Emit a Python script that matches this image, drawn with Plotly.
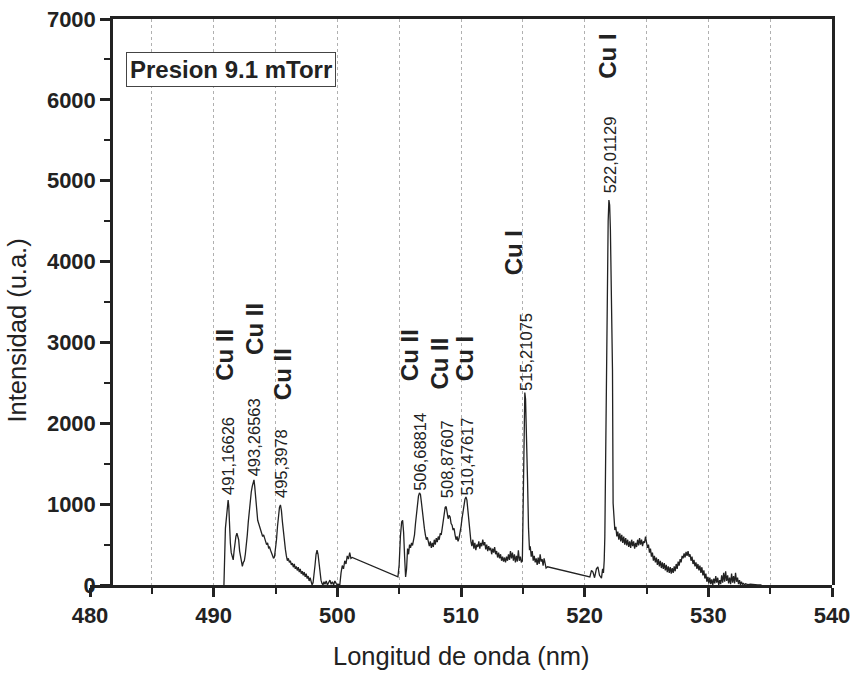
import plotly.graph_objects as go

# ---------------- data ----------------
# spectrum segments: (wavelength nm, intensity u.a.)
SEG_490_501 = [
    (490.80, 0), (490.83, 0), (490.95, 700), (491.05, 900), (491.12, 1000), (491.17, 1050),
    (491.22, 980), (491.28, 700), (491.35, 520), (491.42, 400), (491.50, 330), (491.58, 310),
    (491.65, 420), (491.72, 560), (491.80, 600), (491.88, 640), (491.95, 600), (492.02, 560),
    (492.10, 420), (492.18, 330), (492.25, 260), (492.32, 230), (492.40, 280), (492.48, 300),
    (492.56, 380), (492.64, 470), (492.72, 620), (492.80, 780), (492.88, 920), (492.96, 1060),
    (493.04, 1150), (493.12, 1220), (493.20, 1280), (493.26, 1300), (493.32, 1220), (493.40, 1050),
    (493.48, 880), (493.56, 800), (493.64, 760), (493.72, 720), (493.80, 690), (493.88, 640),
    (493.96, 600), (494.04, 620), (494.12, 560), (494.20, 540), (494.28, 500), (494.36, 520),
    (494.44, 460), (494.52, 470), (494.60, 430), (494.68, 400), (494.76, 380), (494.84, 330),
    (494.92, 350), (495.00, 430), (495.08, 560), (495.16, 720), (495.24, 880), (495.32, 960),
    (495.40, 990), (495.48, 920), (495.56, 780), (495.64, 640), (495.72, 540), (495.80, 440),
    (495.88, 360), (495.96, 300), (496.04, 330), (496.12, 280), (496.20, 300), (496.28, 250),
    (496.36, 270), (496.44, 220), (496.52, 260), (496.60, 200), (496.68, 230), (496.76, 180),
    (496.84, 220), (496.92, 160), (497.00, 200), (497.08, 140), (497.16, 170), (497.24, 120),
    (497.32, 160), (497.40, 100), (497.48, 140), (497.56, 80), (497.64, 110), (497.72, 50),
    (497.80, 90), (497.88, 20), (497.96, 0), (498.04, 30), (498.12, 120), (498.20, 250),
    (498.28, 380), (498.36, 430), (498.44, 380), (498.52, 260), (498.60, 140), (498.68, 60),
    (498.76, 20), (498.84, 0), (498.92, 40), (499.00, 10), (499.10, 50), (499.20, 0),
    (499.30, 30), (499.40, 60), (499.50, 10), (499.60, 40), (499.70, 0), (499.80, 50),
    (499.90, 20), (500.00, 0), (500.10, 10), (500.20, 0), (500.30, 150), (500.40, 240),
    (500.50, 200), (500.60, 300), (500.70, 260), (500.80, 360), (500.90, 320), (501.00, 400),
    (501.10, 330), (501.20, 340),
]

SEG_505_517 = [
    (504.90, 100), (505.00, 250), (505.10, 600), (505.20, 780), (505.28, 800), (505.36, 650),
    (505.44, 350), (505.52, 100), (505.60, 200), (505.68, 450), (505.76, 380), (505.84, 500),
    (505.92, 460), (506.00, 520), (506.08, 490), (506.16, 560), (506.24, 620), (506.32, 760),
    (506.40, 900), (506.48, 1020), (506.56, 1100), (506.64, 1140), (506.72, 1120), (506.80, 1020),
    (506.88, 880), (506.96, 760), (507.04, 700), (507.12, 620), (507.20, 560), (507.28, 590),
    (507.36, 510), (507.44, 480), (507.52, 540), (507.60, 460), (507.68, 520), (507.76, 470),
    (507.84, 560), (507.92, 500), (508.00, 580), (508.08, 530), (508.16, 600), (508.24, 560),
    (508.32, 640), (508.40, 620), (508.48, 700), (508.56, 780), (508.64, 880), (508.72, 960),
    (508.80, 970), (508.88, 900), (508.96, 820), (509.04, 860), (509.12, 840), (509.20, 760),
    (509.28, 740), (509.36, 680), (509.44, 700), (509.52, 620), (509.60, 560), (509.68, 600),
    (509.76, 540), (509.84, 580), (509.92, 640), (510.00, 720), (510.08, 820), (510.16, 920),
    (510.24, 1000), (510.32, 1060), (510.40, 1090), (510.48, 1050), (510.56, 920), (510.64, 760),
    (510.72, 620), (510.80, 540), (510.88, 480), (510.96, 560), (511.04, 450), (511.12, 520),
    (511.20, 430), (511.28, 500), (511.36, 470), (511.44, 540), (511.52, 450), (511.60, 520),
    (511.68, 480), (511.76, 560), (511.84, 490), (511.92, 530), (512.00, 440), (512.08, 500),
    (512.16, 420), (512.24, 480), (512.32, 430), (512.40, 460), (512.48, 380), (512.56, 450),
    (512.64, 400), (512.72, 470), (512.80, 380), (512.88, 420), (512.96, 340), (513.04, 400),
    (513.12, 330), (513.20, 380), (513.28, 300), (513.36, 350), (513.44, 290), (513.52, 340),
    (513.60, 280), (513.68, 350), (513.76, 300), (513.84, 380), (513.92, 310), (514.00, 420),
    (514.08, 330), (514.16, 400), (514.24, 300), (514.32, 380), (514.40, 280), (514.48, 360),
    (514.56, 290), (514.64, 430), (514.72, 300), (514.80, 350), (514.88, 280), (514.96, 300),
    (515.00, 700), (515.04, 1200), (515.10, 2000), (515.16, 2380), (515.22, 2300), (515.30, 1900),
    (515.38, 1300), (515.46, 700), (515.54, 430), (515.60, 480), (515.68, 350), (515.76, 420),
    (515.84, 300), (515.92, 360), (516.00, 280), (516.08, 330), (516.16, 250), (516.24, 340),
    (516.32, 260), (516.40, 380), (516.48, 290), (516.56, 320), (516.64, 240), (516.72, 330),
    (516.80, 260), (516.88, 210), (517.00, 225),
]

SEG_520_535 = [
    (520.42, 100), (520.55, 180), (520.67, 160), (520.80, 90), (520.95, 200), (521.07, 225),
    (521.20, 120), (521.36, 85), (521.45, 200), (521.52, 150), (521.58, 300), (521.63, 590),
    (521.68, 1300), (521.72, 2040), (521.77, 3360), (521.84, 4100), (521.90, 4500), (521.96, 4760),
    (522.02, 4700), (522.08, 4400), (522.14, 3900), (522.20, 3300), (522.25, 2660), (522.30, 1010),
    (522.36, 800), (522.44, 680), (522.52, 720), (522.60, 600), (522.68, 660), (522.76, 560),
    (522.84, 640), (522.92, 540), (523.00, 620), (523.08, 520), (523.16, 600), (523.24, 500),
    (523.32, 580), (523.40, 490), (523.48, 560), (523.56, 470), (523.64, 540), (523.72, 460),
    (523.80, 560), (523.88, 480), (523.96, 540), (524.04, 450), (524.12, 520), (524.20, 470),
    (524.28, 560), (524.36, 490), (524.44, 580), (524.52, 500), (524.60, 560), (524.68, 480),
    (524.76, 540), (524.84, 520), (524.92, 600), (525.00, 540), (525.08, 460), (525.16, 500),
    (525.24, 400), (525.32, 450), (525.40, 350), (525.48, 400), (525.56, 300), (525.64, 360),
    (525.72, 280), (525.80, 340), (525.88, 250), (525.96, 320), (526.04, 230), (526.12, 300),
    (526.20, 210), (526.28, 280), (526.36, 200), (526.44, 270), (526.52, 180), (526.60, 250),
    (526.68, 160), (526.76, 230), (526.84, 150), (526.92, 220), (527.00, 140), (527.08, 210),
    (527.16, 150), (527.24, 230), (527.32, 170), (527.40, 260), (527.48, 200), (527.56, 290),
    (527.64, 240), (527.72, 320), (527.80, 280), (527.88, 360), (527.96, 330), (528.04, 390),
    (528.12, 340), (528.20, 410), (528.28, 360), (528.36, 420), (528.44, 350), (528.52, 380),
    (528.60, 300), (528.68, 350), (528.76, 260), (528.84, 310), (528.92, 230), (529.00, 280),
    (529.08, 200), (529.16, 260), (529.24, 180), (529.32, 240), (529.40, 150), (529.48, 220),
    (529.56, 120), (529.64, 180), (529.72, 80), (529.80, 140), (529.88, 40), (529.96, 100),
    (530.04, 20), (530.12, 90), (530.20, 10), (530.28, 70), (530.36, 0), (530.44, 80),
    (530.52, 20), (530.60, 110), (530.68, 30), (530.76, 90), (530.84, 0), (530.92, 60),
    (531.00, 10), (531.08, 120), (531.16, 30), (531.24, 150), (531.32, 40), (531.40, 170),
    (531.48, 50), (531.56, 120), (531.64, 20), (531.72, 90), (531.80, 10), (531.88, 140),
    (531.96, 30), (532.04, 110), (532.12, 20), (532.20, 150), (532.28, 40), (532.36, 90),
    (532.44, 10), (532.52, 60), (532.60, 0), (532.68, 40), (532.76, 10), (532.84, 20),
    (532.92, 0), (533.00, 15), (533.20, 5), (533.40, 10), (533.60, 5), (533.80, 3),
    (534.00, 2), (534.30, 0),
]

# labelled peaks
PEAK_WL = [491.16626, 493.26563, 495.3978, 506.68814, 508.87607, 510.47617, 515.21075, 522.01129]
PEAK_TEXT = ["491,16626", "493,26563", "495,3978", "506,68814", "508,87607",
             "510,47617", "515,21075", "522,01129"]
PEAK_LABEL_BASE = [1090, 1320, 1050, 1140, 1050, 1080, 2380, 4820]

ION_TEXT = ["Cu II", "Cu II", "Cu II", "Cu II", "Cu II", "Cu I", "Cu I", "Cu I"]
ION_WL = [490.91, 493.34, 495.52, 505.90, 508.29, 510.31, 514.20, 521.87]
ION_BASE = [2500, 2820, 2260, 2500, 2390, 2500, 3810, 6240]

X_RANGE = [480, 540]
Y_RANGE = [0, 7000]
GRID_X = list(range(485, 540, 5))
BOX_TEXT = "Presion 9.1 mTorr"
X_TITLE = "Longitud de onda (nm)"
Y_TITLE = "Intensidad (u.a.)"

# ---------------- figure ----------------
FONT = "Arial, 'Liberation Sans', Helvetica, sans-serif"
INK = "#222222"

points = SEG_490_501 + SEG_505_517 + SEG_520_535
wl = [p[0] for p in points]
inten = [p[1] for p in points]

SPINE_FRAC = 0.031  # y spine position as fraction of bottom axis
x2_start = X_RANGE[0] + SPINE_FRAC * (X_RANGE[1] - X_RANGE[0])

fig = go.Figure()
# empty trace keeps the bottom axis subplot alive
fig.add_trace(go.Scatter(x=[], y=[], xaxis="x", yaxis="y", showlegend=False, hoverinfo="skip"))
fig.add_trace(go.Scatter(
    x=wl, y=inten, mode="lines", xaxis="x2", yaxis="y",
    line=dict(color=INK, width=1.3), showlegend=False,
))

for w, t, b in zip(PEAK_WL, PEAK_TEXT, PEAK_LABEL_BASE):
    fig.add_annotation(x=w, y=b, xref="x2", yref="y", text=t, textangle=-90,
                       showarrow=False, xanchor="center", yanchor="bottom",
                       font=dict(family=FONT, size=16.5, color=INK))
for w, t, b in zip(ION_WL, ION_TEXT, ION_BASE):
    fig.add_annotation(x=w, y=b, xref="x2", yref="y", text="<b>" + t + "</b>", textangle=-90,
                       showarrow=False, xanchor="center", yanchor="bottom",
                       font=dict(family=FONT, size=24, color=INK))

fig.add_annotation(x=(126 - 90) / 742, y=(585 - 52) / 566, xref="paper", yref="paper",
                   text="<b>" + BOX_TEXT + "</b>", showarrow=False,
                   xanchor="left", yanchor="top", bordercolor="#444", borderwidth=1,
                   borderpad=3, bgcolor="white", font=dict(family=FONT, size=24, color=INK))

fig.add_annotation(x=0.5, y=-0.125, xref="paper", yref="paper", text=X_TITLE,
                   showarrow=False, xanchor="center", yanchor="middle",
                   font=dict(family=FONT, size=25.5, color=INK))
fig.add_annotation(x=-0.098, y=0.45, xref="paper", yref="paper", text=Y_TITLE,
                   textangle=-90, showarrow=False, xanchor="center", yanchor="middle",
                   font=dict(family=FONT, size=25.5, color=INK))

tickfont = dict(family=FONT, size=22, color=INK, weight="bold")

fig.update_layout(
    width=852, height=676,
    margin=dict(l=90, r=20, t=19, b=91, autoexpand=False),
    paper_bgcolor="white", plot_bgcolor="white",
    showlegend=False,
    xaxis=dict(
        domain=[0, 1], range=X_RANGE, anchor="y",
        showline=True, linewidth=2.5, linecolor=INK,
        ticks="outside", ticklen=9, tickwidth=2.5, tickcolor=INK,
        tick0=480, dtick=10, tickfont=tickfont, automargin=False,
        minor=dict(dtick=5, ticks="outside", ticklen=6, tickwidth=2, tickcolor=INK, showgrid=False),
        showgrid=False, zeroline=False,
    ),
    xaxis2=dict(
        domain=[SPINE_FRAC, 1], range=[x2_start, X_RANGE[1]], anchor="y", side="top",
        showline=True, linewidth=2.5, linecolor=INK,
        ticks="", showticklabels=False, automargin=False,
        tickvals=GRID_X, showgrid=True, gridcolor="#b0b0b0", gridwidth=1, griddash="dot",
        zeroline=False,
    ),
    yaxis=dict(
        domain=[0, 1], range=Y_RANGE, anchor="x2",
        showline=True, mirror=True, linewidth=2.5, linecolor=INK,
        ticks="outside", ticklen=10, tickwidth=2.5, tickcolor=INK,
        tick0=0, dtick=1000, tickfont=tickfont, automargin=False,
        minor=dict(dtick=500, ticks="outside", ticklen=6, tickwidth=2, tickcolor=INK, showgrid=False),
        showgrid=False, zeroline=False,
    ),
)

fig.write_html("out.html")
